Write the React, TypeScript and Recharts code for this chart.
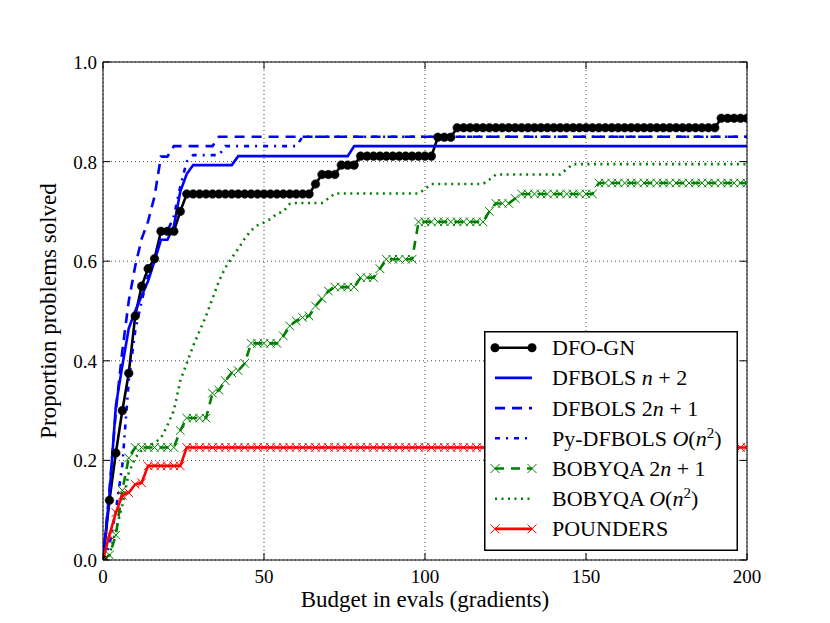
import React from 'react';
import { LineChart, Line, XAxis, YAxis, CartesianGrid, Legend } from 'recharts';

// ---------- data (step profiles: [budget, proportion] break points) ----------
const BUDGET_STEP = 2;
const BUDGET_MAX = 200;
const X_TICKS = [0, 50, 100, 150, 200];
const Y_TICKS = [0, 0.2, 0.4, 0.6, 0.8, 1.0];

type Step = [number, number];

const DFO_GN: Step[] = [
  [0, 0], [2, 0.12], [4, 0.215], [6, 0.3], [8, 0.375], [10, 0.49], [12, 0.55], [14, 0.585],
  [16, 0.605], [18, 0.66], [24, 0.7], [26, 0.735], [66, 0.755], [68, 0.774], [74, 0.793],
  [80, 0.811], [104, 0.849], [110, 0.868], [192, 0.887],
];
const DFBOLS_N2: Step[] = [
  [0, 0], [2, 0.13], [4, 0.31], [6, 0.39], [8, 0.465], [10, 0.5], [12, 0.53], [14, 0.56],
  [16, 0.6], [18, 0.643], [22, 0.67], [24, 0.74], [26, 0.775], [28, 0.793], [42, 0.811], [78, 0.831],
];
const DFBOLS_2N1: Step[] = [
  [0, 0], [2, 0.14], [4, 0.3], [6, 0.42], [8, 0.52], [10, 0.59], [12, 0.645], [14, 0.68],
  [16, 0.73], [18, 0.81], [22, 0.831], [36, 0.85],
];
const PY_DFBOLS_ON2: Step[] = [
  [0, 0], [2, 0.03], [4, 0.1], [6, 0.19], [8, 0.36], [10, 0.46], [12, 0.52], [14, 0.57],
  [16, 0.61], [18, 0.645], [20, 0.66], [22, 0.69], [24, 0.75], [26, 0.8], [28, 0.813],
  [38, 0.831], [62, 0.85],
];
const BOBYQA_2N1: Step[] = [
  [0, 0], [2, 0.01], [4, 0.05], [6, 0.14], [8, 0.205], [10, 0.226], [24, 0.26], [26, 0.285],
  [34, 0.335], [36, 0.341], [38, 0.36], [40, 0.376], [42, 0.38], [44, 0.395], [46, 0.435],
  [56, 0.45], [58, 0.47], [60, 0.48], [62, 0.487], [64, 0.49], [66, 0.51], [68, 0.525],
  [70, 0.54], [72, 0.548], [80, 0.567], [86, 0.585], [88, 0.604], [98, 0.679], [120, 0.7],
  [122, 0.716], [128, 0.726], [130, 0.735], [154, 0.757],
];
const BOBYQA_ON2: Step[] = [
  [0, 0], [2, 0.01], [4, 0.06], [6, 0.11], [8, 0.175], [10, 0.205], [12, 0.22], [14, 0.228],
  [16, 0.235], [18, 0.245], [20, 0.27], [22, 0.3], [24, 0.36], [26, 0.395], [28, 0.43],
  [30, 0.46], [32, 0.49], [34, 0.525], [36, 0.56], [38, 0.587], [40, 0.607], [42, 0.625],
  [44, 0.645], [46, 0.662], [48, 0.672], [50, 0.678], [52, 0.685], [54, 0.695], [56, 0.7],
  [58, 0.715], [60, 0.717], [70, 0.726], [72, 0.736], [100, 0.745], [102, 0.755],
  [120, 0.764], [122, 0.774], [144, 0.785], [146, 0.795],
];
const POUNDERS: Step[] = [
  [0, 0], [2, 0.05], [4, 0.095], [6, 0.13], [8, 0.135], [10, 0.152], [12, 0.155],
  [14, 0.189], [26, 0.226],
];

// ---------- build table for recharts ----------
const valueAt = (steps: Step[], x: number) => {
  let v = steps[0][1];
  for (const [sx, sy] of steps) if (sx <= x) v = sy;
  return v;
};

const BUDGETS = Array.from({ length: BUDGET_MAX / BUDGET_STEP + 1 }, (_, i) => i * BUDGET_STEP);

const SERIES_STEPS: Record<string, Step[]> = {
  dfogn: DFO_GN,
  dfbolsN2: DFBOLS_N2,
  dfbols2N1: DFBOLS_2N1,
  pyDfbols: PY_DFBOLS_ON2,
  bobyqa2N1: BOBYQA_2N1,
  bobyqaON2: BOBYQA_ON2,
  pounders: POUNDERS,
};

const TABLE = BUDGETS.map((b) => {
  const row: Record<string, number> = { budget: b };
  for (const k of Object.keys(SERIES_STEPS)) row[k] = valueAt(SERIES_STEPS[k], b);
  return row;
});

// ---------- styling ----------
const FONT = 'Liberation Serif';
const BLUE = '#0000ff';
const GREEN = '#008000';
const RED = '#ff0000';
const LW = 2.6;

const makeCross = (color: string, s = 4.3) => (props: any) => {
  const { cx, cy, index } = props;
  if (cx == null || cy == null) return <g key={`c${index}`} />;
  return (
    <path
      key={`c${index}`}
      d={`M${cx - s},${cy - s}L${cx + s},${cy + s}M${cx - s},${cy + s}L${cx + s},${cy - s}`}
      stroke={color}
      strokeWidth={1}
      fill="none"
    />
  );
};

const BottomTick = (props: any) => {
  const { x, y, payload } = props;
  return (
    <g>
      <line x1={x} y1={y} x2={x} y2={y - 7} stroke="#000" strokeWidth={1} />
      <text x={x} y={y + 23} textAnchor="middle" fontSize={19} fontFamily={FONT} fill="#000">
        {payload.value}
      </text>
    </g>
  );
};
const LeftTick = (props: any) => {
  const { x, y, payload } = props;
  return (
    <g>
      <line x1={x} y1={y} x2={x + 7} y2={y} stroke="#000" strokeWidth={1} />
      <text x={x - 6} y={y + 7} textAnchor="end" fontSize={19} fontFamily={FONT} fill="#000">
        {Number(payload.value).toFixed(1)}
      </text>
    </g>
  );
};
const TopTick = (props: any) => {
  const { x, y } = props;
  return <line x1={x} y1={y} x2={x} y2={y + 7} stroke="#000" strokeWidth={1} />;
};
const RightTick = (props: any) => {
  const { x, y } = props;
  return <line x1={x} y1={y} x2={x - 7} y2={y} stroke="#000" strokeWidth={1} />;
};

const XTitle = (props: any) => {
  const vb = props.viewBox || { x: 103, y: 560, width: 644, height: 45 };
  return (
    <text x={vb.x + vb.width / 2} y={vb.y + 47} textAnchor="middle" fontSize={23} fontFamily={FONT} fill="#000">
      Budget in evals (gradients)
    </text>
  );
};
const YTitle = (props: any) => {
  const vb = props.viewBox || { x: 43, y: 62, width: 60, height: 498 };
  const cx = vb.x + vb.width - 47;
  const cy = vb.y + vb.height / 2;
  return (
    <text x={cx} y={cy} transform={`rotate(-90 ${cx} ${cy})`} textAnchor="middle" fontSize={23} fontFamily={FONT} fill="#000">
      Proportion problems solved
    </text>
  );
};

type Entry = { label: React.ReactNode; color: string; dash?: string; marker?: 'circle' | 'cross' };

const Sup = ({ children }: { children: React.ReactNode }) => (
  <>
    <tspan dy={-8} fontSize={15}>{children}</tspan>
    <tspan dy={8}>{')'}</tspan>
  </>
);

const LEGEND_ENTRIES: Entry[] = [
  { label: <>DFO-GN</>, color: '#000', marker: 'circle' },
  { label: <>DFBOLS <tspan fontStyle="italic">n</tspan> + 2</>, color: BLUE },
  { label: <>DFBOLS 2<tspan fontStyle="italic">n</tspan> + 1</>, color: BLUE, dash: '10 7' },
  {
    label: <>Py-DFBOLS <tspan fontStyle="italic">O</tspan>(<tspan fontStyle="italic">n</tspan><Sup>2</Sup></>,
    color: BLUE,
    dash: '5 6 2 6',
  },
  { label: <>BOBYQA 2<tspan fontStyle="italic">n</tspan> + 1</>, color: GREEN, dash: '9 7', marker: 'cross' },
  {
    label: <>BOBYQA <tspan fontStyle="italic">O</tspan>(<tspan fontStyle="italic">n</tspan><Sup>2</Sup></>,
    color: GREEN,
    dash: '2 4.5',
  },
  { label: <>POUNDERS</>, color: RED, marker: 'cross' },
];

const LegendBox = () => (
  <svg width={254} height={220} style={{ display: 'block', overflow: 'visible' }}>
    <rect x={0.75} y={0.75} width={252.5} height={218.5} fill="#fff" stroke="#000" strokeWidth={1.5} />
    {LEGEND_ENTRIES.map((e, i) => {
      const cy = 16.7 + i * 30.2;
      const x1 = 11;
      const x2 = 48;
      return (
        <g key={i}>
          <line x1={x1} y1={cy} x2={x2} y2={cy} stroke={e.color} strokeWidth={LW} strokeDasharray={e.dash} />
          {e.marker === 'circle' && (
            <>
              <circle cx={x1} cy={cy} r={4.5} fill="#000" />
              <circle cx={x2} cy={cy} r={4.5} fill="#000" />
            </>
          )}
          {e.marker === 'cross' &&
            [x1, x2].map((mx) => (
              <path
                key={mx}
                d={`M${mx - 4.5},${cy - 4.5}L${mx + 4.5},${cy + 4.5}M${mx - 4.5},${cy + 4.5}L${mx + 4.5},${cy - 4.5}`}
                stroke={e.color}
                strokeWidth={1}
              />
            ))}
          <text x={68} y={cy + 7.5} fontSize={22} fontFamily={FONT} fill="#000">
            {e.label}
          </text>
        </g>
      );
    })}
  </svg>
);

export default function App() {
  return (
    <div style={{ position: 'absolute', left: 0, top: 0, width: 830, height: 623, background: '#fff' }}>
      <LineChart
        width={830}
        height={623}
        data={TABLE}
        margin={{ top: 61, right: 82, bottom: 18, left: 43 }}
      >
        <CartesianGrid stroke="#333" strokeWidth={0.9} strokeDasharray="1 3" />
        <Line dataKey="dfogn" stroke="#000" strokeWidth={LW} isAnimationActive={false} activeDot={false}
          dot={{ r: 4.3, fill: '#000', stroke: '#000', strokeWidth: 0.5 }} />
        <Line dataKey="dfbolsN2" stroke={BLUE} strokeWidth={LW} dot={false} activeDot={false} isAnimationActive={false} />
        <Line dataKey="dfbols2N1" stroke={BLUE} strokeWidth={LW} strokeDasharray="10 7" dot={false} activeDot={false} isAnimationActive={false} />
        <Line dataKey="pyDfbols" stroke={BLUE} strokeWidth={LW} strokeDasharray="5 6 2 6" dot={false} activeDot={false} isAnimationActive={false} />
        <Line dataKey="bobyqa2N1" stroke={GREEN} strokeWidth={LW} strokeDasharray="9 7" dot={makeCross(GREEN)} activeDot={false} isAnimationActive={false} />
        <Line dataKey="bobyqaON2" stroke={GREEN} strokeWidth={LW} strokeDasharray="2 4.5" dot={false} activeDot={false} isAnimationActive={false} />
        <Line dataKey="pounders" stroke={RED} strokeWidth={LW} dot={makeCross(RED)} activeDot={false} isAnimationActive={false} />
        <XAxis dataKey="budget" type="number" domain={[0, 200]} ticks={X_TICKS} allowDataOverflow
          height={45} tickSize={0} tickMargin={0} tickLine={false} axisLine={{ stroke: '#000', strokeWidth: 1 }}
          tick={BottomTick} interval={0} label={XTitle} />
        <XAxis xAxisId="top" orientation="top" dataKey="budget" type="number" domain={[0, 200]} ticks={X_TICKS}
          allowDataOverflow height={1} tickSize={0} tickMargin={0} tickLine={false}
          axisLine={{ stroke: '#000', strokeWidth: 1 }} tick={TopTick} interval={0} />
        <YAxis type="number" domain={[0, 1]} ticks={Y_TICKS} allowDataOverflow width={60} tickSize={0} tickMargin={0}
          tickLine={false} axisLine={{ stroke: '#000', strokeWidth: 1 }} tick={LeftTick} interval={0}
          label={YTitle} />
        <YAxis yAxisId="right" orientation="right" type="number" domain={[0, 1]} ticks={Y_TICKS} allowDataOverflow
          width={1} tickSize={0} tickMargin={0} tickLine={false} axisLine={{ stroke: '#000', strokeWidth: 1 }}
          tick={RightTick} interval={0} />
        <Legend
          layout="vertical"
          align="center"
          verticalAlign="middle"
          width={254}
          height={220}
          wrapperStyle={{ position: 'absolute', left: 484, top: 331, width: 254, height: 220 }}
          content={<LegendBox />}
        />
      </LineChart>
    </div>
  );
}
